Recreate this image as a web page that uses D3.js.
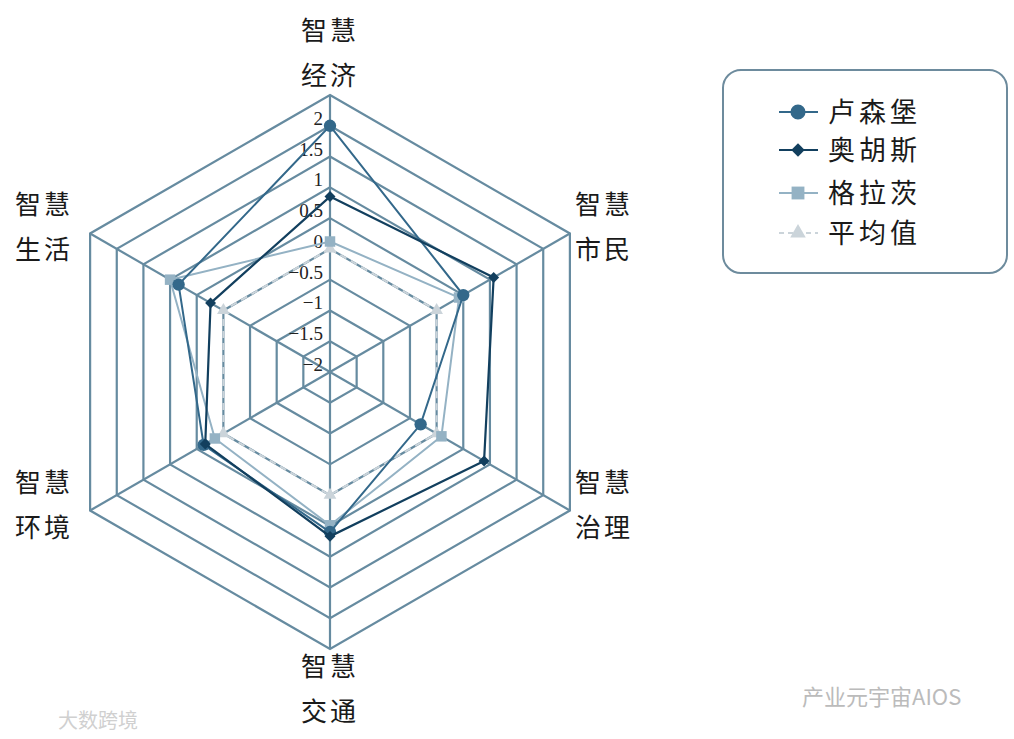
<!DOCTYPE html>
<html><head><meta charset="utf-8">
<script src="https://cdn.jsdelivr.net/npm/d3@7"></script>
<style>body{margin:0;background:#fff}</style>
</head><body>
<svg id="c" width="1014" height="739"></svg>
<script>
const axes = [["智慧","经济"],["智慧","市民"],["智慧","治理"],["智慧","交通"],["智慧","环境"],["智慧","生活"]];
const seriesNames = ["卢森堡","奥胡斯","格拉茨","平均值"];
const luxembourg = [2.0, 0.5, -0.3, 0.6, 0.37, 0.84];
const aarhus     = [0.85, 1.07, 0.89, 0.67, 0.34, 0.24];
const graz       = [0.12, 0.42, 0.09, 0.49, 0.16, 1.0];
const average    = [0, 0, 0, 0, 0, 0];
const tickValues = [-2, -1.5, -1, -0.5, 0, 0.5, 1, 1.5, 2, 2.5];
const tickLabels = ["−2","−1.5","−1","−0.5","0","0.5","1","1.5","2",""];

const svg = d3.select("#c");
const cx = 330, cy = 372, R = 277;
const r = d3.scaleLinear().domain([-2, 2.5]).range([0, R]);
const ang = d3.scaleLinear().domain([0, 6]).range([0, 2*Math.PI]);
const pt = (i, v) => [cx + r(v)*Math.sin(ang(i)), cy - r(v)*Math.cos(ang(i))];
const gridColor = "#668ba0";

// rings
tickValues.slice(1).forEach(t => {
  svg.append("path")
    .attr("d", d3.line()(d3.range(6).map(i => pt(i, t))) + "Z")
    .attr("fill", "none").attr("stroke", gridColor).attr("stroke-width", 2.2);
});
// spokes
d3.range(6).forEach(i => {
  const [x, y] = pt(i, 2.5);
  svg.append("line").attr("x1", cx).attr("y1", cy).attr("x2", x).attr("y2", y)
    .attr("stroke", gridColor).attr("stroke-width", 2.2);
});
// tick labels
tickValues.forEach((t, k) => {
  if (!tickLabels[k]) return;
  svg.append("text").attr("x", cx - 7).attr("y", cy - r(t) - 1)
    .attr("text-anchor", "end")
    .attr("font-family", "Liberation Serif, DejaVu Serif, serif")
    .attr("font-size", 19).attr("fill", "#222").text(tickLabels[k]);
});

// axis labels
const labelPos = [[330, 40], [604, 214], [604, 492], [330, 676], [44, 492], [44, 214]];
axes.forEach((a, i) => {
  const t = svg.append("text").attr("text-anchor", "middle")
    .attr("font-family", "Noto Sans CJK SC, sans-serif").attr("font-size", 26)
    .attr("letter-spacing", 3).attr("fill", "#1a1a1a");
  t.append("tspan").attr("x", labelPos[i][0]).attr("y", labelPos[i][1]).text(a[0]);
  t.append("tspan").attr("x", labelPos[i][0]).attr("y", labelPos[i][1] + 45).text(a[1]);
});

const series = [
  {name: seriesNames[0], data: luxembourg, color: "#33688a", width: 2, dash: null, sym: d3.symbolCircle, size: 120, rot: 0},
  {name: seriesNames[1], data: aarhus, color: "#123f5e", width: 2.2, dash: null, sym: d3.symbolSquare, size: 60, rot: 45},
  {name: seriesNames[2], data: graz, color: "#94b2c4", width: 2, dash: null, sym: d3.symbolSquare, size: 110, rot: 0},
  {name: seriesNames[3], data: average, color: "#cbd4da", width: 2, dash: "7,5", sym: d3.symbolTriangle, size: 70, rot: 0}
];
const drawOrder = [3, 2, 0, 1];
drawOrder.forEach(si => {
  const s = series[si];
  const pts = s.data.map((v, i) => pt(i, v));
  svg.append("path").attr("d", d3.line()(pts) + "Z")
    .attr("fill", "none").attr("stroke", s.color).attr("stroke-width", s.width)
    .attr("stroke-dasharray", s.dash);
  pts.forEach(p => {
    svg.append("path").attr("d", d3.symbol().type(s.sym).size(s.size)())
      .attr("transform", `translate(${p[0]},${p[1]}) rotate(${s.rot})`).attr("fill", s.color);
  });
});

// legend
svg.append("rect").attr("x", 723).attr("y", 70).attr("width", 284).attr("height", 203)
  .attr("rx", 18).attr("fill", "#fff").attr("stroke", "#6d8b9d").attr("stroke-width", 2);
const legY = [112, 150, 193, 233];
series.forEach((s, i) => {
  svg.append("line").attr("x1", 779).attr("x2", 818).attr("y1", legY[i]).attr("y2", legY[i])
    .attr("stroke", s.color).attr("stroke-width", s.width).attr("stroke-dasharray", s.dash ? "5,4" : null);
  svg.append("path").attr("d", d3.symbol().type(s.sym).size(s.size * 1.5)())
    .attr("transform", `translate(798,${legY[i]}) rotate(${s.rot})`).attr("fill", s.color);
  svg.append("text").attr("x", 828).attr("y", legY[i] + 10)
    .attr("font-family", "Noto Sans CJK SC, sans-serif").attr("font-size", 27)
    .attr("letter-spacing", 4).attr("fill", "#1a1a1a").text(s.name);
});

// watermarks
svg.append("text").attr("x", 802).attr("y", 705).attr("font-family", "Noto Sans CJK SC, sans-serif")
  .attr("font-size", 22).attr("fill", "#bbbbbb").text("产业元宇宙AIOS");
svg.append("text").attr("x", 58).attr("y", 728).attr("font-family", "Noto Sans CJK SC, sans-serif")
  .attr("font-size", 20).attr("fill", "#d0d0d0").text("大数跨境");
</script>
</body></html>
